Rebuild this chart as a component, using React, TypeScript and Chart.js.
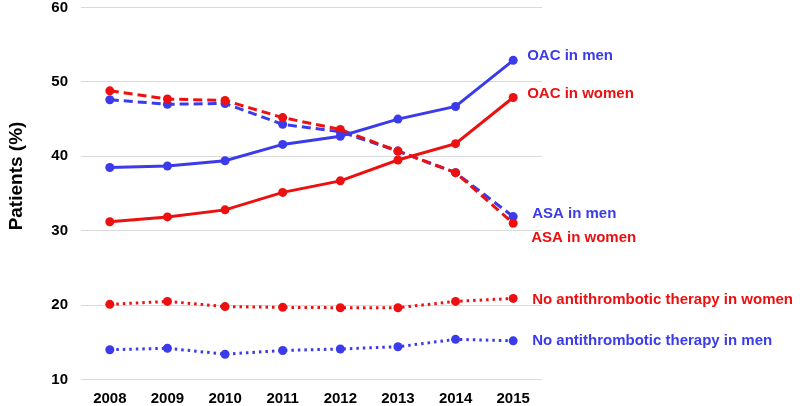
import React, { useEffect, useRef } from "react";
import { Chart, registerables } from "chart.js";

Chart.register(...registerables);

const years = ["2008", "2009", "2010", "2011", "2012", "2013", "2014", "2015"];
const oacMen = [38.5, 38.7, 39.4, 41.6, 42.7, 45.0, 46.7, 52.9];
const oacWomen = [31.2, 31.85, 32.8, 35.15, 36.7, 39.5, 41.7, 47.9];
const asaMen = [47.6, 47.0, 47.1, 44.3, 43.3, 40.7, 37.8, 31.9];
const asaWomen = [48.8, 47.7, 47.5, 45.2, 43.6, 40.7, 37.8, 31.0];
const noneWomen = [20.1, 20.5, 19.8, 19.7, 19.65, 19.65, 20.5, 20.9];
const noneMen = [14.0, 14.2, 13.4, 13.9, 14.1, 14.4, 15.4, 15.2];
const yTicks = [10, 20, 30, 40, 50, 60];

const BLUE = "#3b3bec";
const RED = "#ec1010";
const FONT = "'Liberation Sans', Arial, sans-serif";

const endLabels = {
  id: "endLabels",
  afterDatasetsDraw(chart: any) {
    const ctx = chart.ctx;
    ctx.save();
    ctx.font = `bold 15px ${FONT}`;
    ctx.textBaseline = "middle";
    ctx.textAlign = "left";
    chart.data.datasets.forEach((ds: any, i: number) => {
      const meta = chart.getDatasetMeta(i);
      const pt = meta.data[meta.data.length - 1];
      if (!pt) return;
      ctx.fillStyle = ds.borderColor;
      ctx.fillText(ds.label, pt.x + ds.labelDx, pt.y + ds.labelDy);
    });
    ctx.restore();
  },
};

const yTitle = {
  id: "yTitle",
  afterDraw(chart: any) {
    const ctx = chart.ctx;
    ctx.save();
    ctx.translate(17, 176);
    ctx.rotate(-Math.PI / 2);
    ctx.font = `bold 19px ${FONT}`;
    ctx.fillStyle = "#000";
    ctx.textAlign = "center";
    ctx.textBaseline = "middle";
    ctx.fillText("Patients (%)", 0, 0);
    ctx.restore();
  },
};

export default function App() {
  const ref = useRef<HTMLCanvasElement>(null);
  useEffect(() => {
    const mk = (label: string, data: number[], color: string, dash: number[], dx: number, dy: number) => ({
      label,
      data,
      borderColor: color,
      backgroundColor: color,
      borderWidth: 3,
      borderDash: dash,
      pointRadius: 4.5,
      pointHoverRadius: 4.5,
      pointBorderWidth: 0,
      tension: 0,
      labelDx: dx,
      labelDy: dy,
    });
    const chart = new Chart(ref.current!, {
      type: "line",
      data: {
        labels: years,
        datasets: [
          mk("OAC in women", oacWomen, RED, [], 14, -4),
          mk("OAC in men", oacMen, BLUE, [], 14, -4),
          mk("ASA in women", asaWomen, RED, [9, 5], 18, 15),
          mk("ASA in men", asaMen, BLUE, [9, 5], 19, -3),
          mk("No antithrombotic therapy in women", noneWomen, RED, [2.5, 4], 19, 1),
          mk("No antithrombotic therapy in men", noneMen, BLUE, [2.5, 4], 19, 0),
        ] as any,
      },
      options: {
        animation: false,
        responsive: false,
        maintainAspectRatio: false,
        layout: { padding: { left: 0, right: 258, top: 0, bottom: 0 } },
        plugins: { legend: { display: false }, tooltip: { enabled: false } },
        scales: {
          x: {
            offset: true,
            grid: { display: false, drawTicks: true, tickLength: 11.5, tickColor: "rgba(0,0,0,0)" },
            border: { display: false },
            ticks: {
              padding: 0,
              color: "#000",
              font: { family: FONT, size: 15, weight: "bold", lineHeight: 1 },
            },
          },
          y: {
            min: 10,
            max: 60,
            afterFit: (s: any) => {
              s.width = 81;
            },
            afterBuildTicks: (s: any) => {
              s.ticks = yTicks.map((v) => ({ value: v }));
            },
            grid: { color: "#d9d9d9", lineWidth: 1, drawTicks: true, tickLength: 13, tickColor: "rgba(0,0,0,0)" },
            border: { display: false },
            ticks: {
              padding: 0,
              color: "#000",
              font: { family: FONT, size: 15, weight: "bold", lineHeight: 1 },
            },
          },
        },
      },
      plugins: [endLabels, yTitle],
    });
    return () => chart.destroy();
  }, []);
  return (
    <div style={{ position: "fixed", left: 0, top: 0, width: 800, height: 406, background: "#fff" }}>
      <canvas ref={ref} width={800} height={406} style={{ width: 800, height: 406, display: "block" }} />
    </div>
  );
}
